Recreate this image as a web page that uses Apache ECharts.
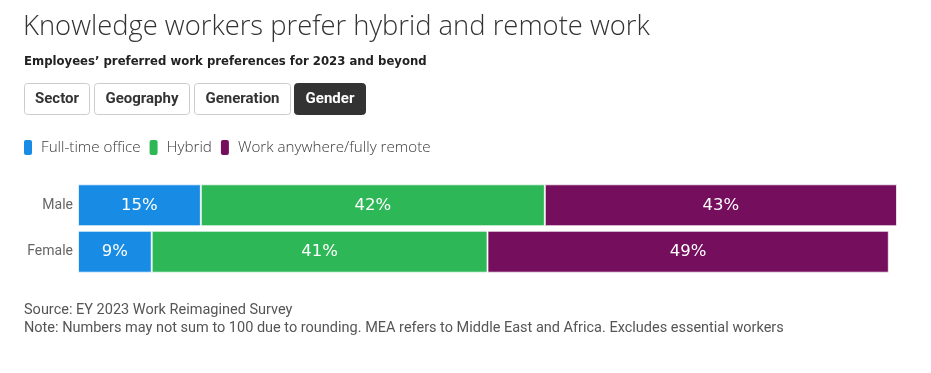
<!DOCTYPE html>
<html><head><meta charset="utf-8">
<script src="https://cdn.jsdelivr.net/npm/echarts@6/dist/echarts.min.js"></script>
<style>html,body{margin:0;padding:0;background:#fff}#c{width:931px;height:373px}</style>
</head><body><div id="c"></div>
<script>
const categories = ['Male', 'Female'];
const fullTimeOffice = [15, 9];
const hybrid = [42, 41];
const remote = [43, 49];
const seriesNames = ['Full-time office', 'Hybrid', 'Work anywhere/fully remote'];
const tabs = ['Sector', 'Geography', 'Generation', 'Gender'];
const activeTab = 'Gender';

const colors = ['#188CE5', '#2DB757', '#750E5C'];
const chart = echarts.init(document.getElementById('c'));

const tabPos = [[24, 66], [94, 96], [194, 97], [294, 72]];
const tabGraphics = [];
tabs.forEach((t, i) => {
  const active = t === activeTab;
  tabGraphics.push({
    type: 'group', left: tabPos[i][0], top: 83,
    children: [
      { type: 'rect', shape: { x: 0.5, y: 0.5, width: tabPos[i][1] - 1, height: 31, r: 3 },
        style: { fill: active ? '#333333' : '#ffffff', stroke: active ? '#333333' : '#cccccc', lineWidth: 1 } },
      { type: 'text', x: tabPos[i][1] / 2, y: 16.5,
        style: { text: t, fill: active ? '#ffffff' : '#333333', font: 'bold 15px Roboto', align: 'center', verticalAlign: 'middle' } }
    ]
  });
});

function mkSeries(name, data, idx) {
  return {
    name: name, type: 'bar', stack: 'total', data: data,
    barCategoryGap: '10%',
    itemStyle: { color: colors[idx], borderColor: 'rgba(255,255,255,0.7)', borderWidth: 1 },
    label: { show: true, position: 'inside', formatter: '{c}%', color: '#ffffff',
      fontFamily: 'DejaVu Sans', fontSize: 16.5 },
    emphasis: { disabled: true }
  };
}

chart.setOption({
  animation: false,
  title: [
    { text: 'Knowledge workers prefer hybrid and remote work', left: 23, top: 14, padding: 0,
      textStyle: { fontFamily: 'Open Sans', fontWeight: 300, fontSize: 27.4, color: '#333333' } },
    { text: 'Employees\u2019 preferred work preferences for 2023 and beyond', left: 24, top: 56, padding: 0,
      textStyle: { fontFamily: 'DejaVu Sans', fontWeight: 'bold', fontSize: 11.7, color: '#222222' } },
    { text: 'Source: EY 2023 Work Reimagined Survey', left: 24, top: 303, padding: 0,
      textStyle: { fontFamily: 'Roboto', fontWeight: 'normal', fontSize: 14.5, color: '#555555' } },
    { text: 'Note: Numbers may not sum to 100 due to rounding. MEA refers to Middle East and Africa. Excludes essential workers', left: 24, top: 321, padding: 0,
      textStyle: { fontFamily: 'Roboto', fontWeight: 'normal', fontSize: 14.5, color: '#555555' } }
  ],
  legend: {
    left: 24, top: 140, padding: 0, icon: 'roundRect', itemWidth: 8, itemHeight: 15, itemGap: 9,
    selectedMode: false,
    itemStyle: { borderWidth: 0 },
    textStyle: { fontFamily: 'Open Sans', fontWeight: 300, fontSize: 15.2, color: '#3a3a3a', padding: [0, 0, 0, 4] },
    data: seriesNames
  },
  grid: { left: 78, right: 34, top: 182, height: 93, containLabel: false },
  xAxis: { type: 'value', min: 0, max: 100, show: false },
  yAxis: { type: 'category', data: categories, inverse: true,
    axisLine: { show: false }, axisTick: { show: false },
    axisLabel: { fontFamily: 'Roboto', fontSize: 14, color: '#666666', margin: 5 } },
  graphic: tabGraphics,
  series: [
    mkSeries(seriesNames[0], fullTimeOffice, 0),
    mkSeries(seriesNames[1], hybrid, 1),
    mkSeries(seriesNames[2], remote, 2)
  ]
});
</script></body></html>
